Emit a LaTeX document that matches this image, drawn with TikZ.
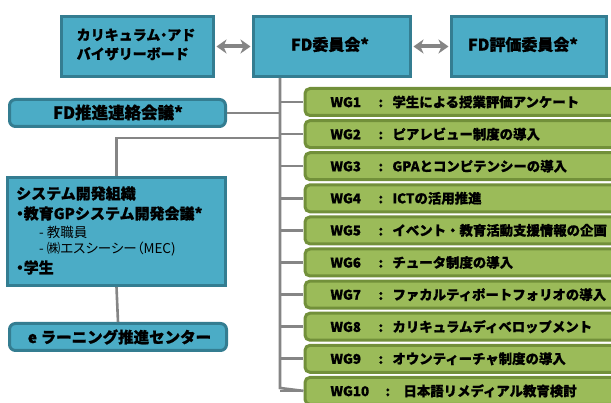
\documentclass[tikz,border=0pt]{standalone}
\usepackage{fontspec}
\setmainfont{Noto Sans CJK JP}[BoldFeatures={FakeBold=0.8}]
\usetikzlibrary{arrows.meta}
\definecolor{bluefill}{HTML}{4BACC6}
\definecolor{blueline}{HTML}{347D91}
\definecolor{greenfill}{HTML}{9BBB59}
\definecolor{greenline}{HTML}{72903A}
\definecolor{connc}{HTML}{858585}
\newcommand{\pdot}{{\addfontfeature{RawFeature=+palt}・}}
\tikzset{
  bluebox/.style={draw=blueline, fill=bluefill, line width=3pt, inner sep=0pt},
  bluerbox/.style={bluebox, rounded corners=6pt},
  wgbox/.style={draw=greenline, fill=greenfill, line width=3pt, rounded corners=5pt,
    anchor=west, minimum height=27pt, text width=300pt, inner xsep=25.5pt, align=left,
    font=\fontsize{13.4}{16}\selectfont\bfseries},
  conn/.style={draw=connc, line width=2.6pt},
  dblarrow/.style={draw=connc, line width=4pt,
    {Stealth[length=10pt,width=14pt,inset=3pt]}-{Stealth[length=10pt,width=14pt,inset=3pt]}},
  btxt/.style={font=\fontsize{14}{19}\selectfont\bfseries, align=left, inner sep=0pt},
  bigtxt/.style={btxt, font=\fontsize{16}{19}\selectfont\bfseries},
  stxt/.style={font=\fontsize{15}{18}\selectfont\bfseries, anchor=west, inner sep=0pt},
  ntxt/.style={font=\fontsize{13.5}{16}\selectfont, anchor=west, inner sep=0pt},
}
\begin{document}
\begin{tikzpicture}[x=1pt,y=-1pt]
\clip (0,0) rectangle (611,403);
\fill[white] (0,0) rectangle (611,403);

% coordinates of the trunk
\coordinate (trunktop) at (280,78);
\coordinate (trunkbot) at (280,388);
\coordinate (sysbend) at (280,138);

% top row boxes
\node[bluebox, minimum width=152pt, minimum height=60pt] (cab) at (137.5,46.5) {};
\node[bluebox, minimum width=157pt, minimum height=60pt] (fd) at (332,46.5) {};
\node[bluebox, minimum width=155pt, minimum height=60pt] (fde) at (529,46.5) {};
\node[btxt] at (136,44.5) {カリキュラム\pdot アド\\バイザリーボード};
\node[bigtxt] at (330,44.5) {FD委員会*};
\node[bigtxt] at (523,44.5) {FD評価委員会*};

% arrows
\draw[dblarrow] ([xshift=1.5pt]cab.east) -- ([xshift=-1.5pt]fd.west);
\draw[dblarrow] ([xshift=1.5pt]fd.east) -- ([xshift=-1.5pt]fde.west);

% other blue boxes
\node[bluerbox, minimum width=216pt, minimum height=27pt] (fdp) at (117.5,113) {};
\node[btxt, font=\fontsize{16.5}{19}\selectfont\bfseries] at (118,112.5) {FD推進連絡会議*};

\node[bluebox, minimum width=218pt, minimum height=108pt] (sys) at (116.5,231.5) {};
\node[stxt] at (16,193.5) {システム開発組織};
\node[stxt] at (16,213.5) {\pdot 教育GPシステム開発会議*};
\node[ntxt] at (39,232) {- 教職員};
\node[ntxt] at (39,249.5) {\addfontfeature{RawFeature=+palt}- ㈱エスシーシー（MEC)};
\node[stxt] at (16,267.5) {\pdot 学生};

\node[bluerbox, minimum width=217pt, minimum height=27pt] (elc) at (118,337) {};
\node[btxt, font=\fontsize{15.5}{19}\selectfont\bfseries] at (119.5,337) {e ラーニング推進センター};

% WG boxes
\foreach \i/\lab/\ltw/\cw/\txt in {
  1/WG1/48/14/学生による授業評価アンケート,
  2/WG2/48/14/ピアレビュー制度の導入,
  3/WG3/48/14/GPAとコンピテンシーの導入,
  4/WG4/48/14/ICTの活用推進,
  5/WG5/48/14/イベント・教育活動支援情報の企画,
  6/WG6/48/14/チュータ制度の導入,
  7/WG7/48/14/ファカルティポートフォリオの導入,
  8/WG8/48/14/カリキュラムディベロップメント,
  9/WG9/48/14/オウンティーチャ制度の導入,
  10/WG10/55/18/日本語リメディアル教育検討}{
  \pgfmathsetmacro{\cy}{102+32.1*(\i-1)}
  \draw[conn] (280,\cy) -- (303,\cy);
  \node[wgbox] (wg\i) at (303.5,\cy) {\makebox[\ltw pt][l]{\lab}\makebox[\cw pt][l]{:}\txt};
}

% trunk and connectors
\draw[conn] (fd.south -| trunktop) -- (trunkbot) -- (wg10.west);
\draw[conn] (fdp.east) -- (fdp.east -| trunktop);
\draw[conn] (sysbend) -- (sysbend -| sys.north) -- (sys.north);
\draw[conn] (sys.south) -- (elc.north);

\end{tikzpicture}
\end{document}
